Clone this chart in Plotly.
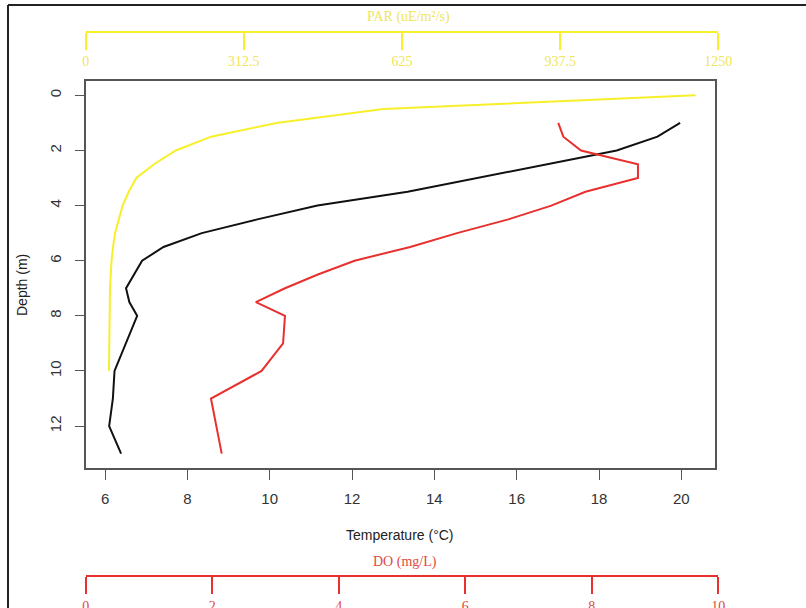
import plotly.graph_objects as go

# ---- data ----
depth_temp = [1, 1.5, 2, 3.5, 4, 4.5, 5, 5.5, 6, 7, 7.5, 8, 10, 11, 12, 13]
temperature = [19.97, 19.42, 18.43, 13.35, 11.16, 9.7, 8.35, 7.42, 6.9, 6.51, 6.59, 6.78, 6.23, 6.19, 6.1, 6.39]

depth_do = [1, 1.5, 2, 2.5, 3, 3.5, 4, 4.5, 5, 5.5, 6, 6.5, 7, 7.5, 8, 9, 10, 11, 13]
do_vals = [7.47, 7.55, 7.83, 8.73, 8.73, 7.9, 7.36, 6.68, 5.87, 5.13, 4.25, 3.67, 3.15, 2.69, 3.15, 3.12, 2.78, 1.98, 2.15]

depth_par = [0, 0.5, 1, 1.5, 2, 2.5, 3, 3.5, 4, 4.5, 5, 5.5, 6, 7, 8, 9, 10]
par_vals = [1205, 588, 377, 248, 178, 135, 100, 85, 73, 65, 58, 54, 51, 48, 47, 46.5, 46]

temp_ticks = [6, 8, 10, 12, 14, 16, 18, 20]
depth_ticks = [0, 2, 4, 6, 8, 10, 12]
par_ticks = [0, 312.5, 625, 937.5, 1250]
par_labels = ["0", "312.5", "625", "937.5", "1250"]
do_ticks = [0, 2, 4, 6, 8, 10]

W, H = 806, 608
BLACK = "#111111"
RED = "#e8302e"
YEL = "#f7ef2a"
YEL_TXT = "#efe55a"
RED_TXT = "#e04a40"
FRAME = "#555555"

def px(x):
    return x / W

def py(y):
    return 1 - y / H

fig = go.Figure()
fig.add_trace(go.Scatter(x=par_vals, y=depth_par, mode="lines", xaxis="x2", yaxis="y",
                         line=dict(color=YEL, width=2), hoverinfo="skip"))
fig.add_trace(go.Scatter(x=temperature, y=depth_temp, mode="lines", xaxis="x", yaxis="y",
                         line=dict(color=BLACK, width=2), hoverinfo="skip"))
fig.add_trace(go.Scatter(x=do_vals, y=depth_do, mode="lines", xaxis="x3", yaxis="y",
                         line=dict(color=RED, width=2), hoverinfo="skip"))

sans = dict(family="Liberation Sans, Arial, sans-serif", size=15, color="#333333")
serif_y = dict(family="Liberation Serif, Times New Roman, serif", size=14, color=YEL_TXT)
serif_r = dict(family="Liberation Serif, Times New Roman, serif", size=14, color=RED_TXT)

main_dom = [px(85.7), px(714.7)]
extra_dom = [px(85.7), px(718.3)]

fig.update_layout(
    template="none",
    width=W, height=H,
    margin=dict(l=0, r=0, t=0, b=0),
    paper_bgcolor="white", plot_bgcolor="rgba(0,0,0,0)",
    showlegend=False,
    xaxis=dict(domain=main_dom, range=[5.53, 20.81], anchor="y",
               tickvals=temp_ticks, ticks="outside", ticklen=10, tickwidth=1.2,
               tickcolor=FRAME, showline=True, linecolor=FRAME, linewidth=1.5,
               mirror=True, showgrid=False, zeroline=False, tickfont=sans,
               ticklabelstandoff=6, automargin=False),
    yaxis=dict(domain=[py(468), py(81)], range=[13.52, -0.52], anchor="x",
               tickvals=depth_ticks, ticks="outside", ticklen=9, tickwidth=1.2,
               tickcolor=FRAME, showline=True, linecolor=FRAME, linewidth=1.5,
               mirror=True, showgrid=False, zeroline=False, tickfont=sans,
               tickangle=-90, ticklabelstandoff=8, automargin=False),
    xaxis2=dict(domain=extra_dom, range=[0, 1250], anchor="free", position=py(31.5),
                side="bottom", tickvals=par_ticks, ticktext=par_labels,
                ticks="outside", ticklen=17, tickwidth=2, tickcolor=YEL,
                showline=True, linecolor=YEL, linewidth=2, showgrid=False,
                zeroline=False, tickfont=serif_y, automargin=False),
    xaxis3=dict(domain=extra_dom, range=[0, 10], anchor="free", position=py(576),
                side="bottom", tickvals=do_ticks,
                ticks="outside", ticklen=17, tickwidth=2, tickcolor=RED,
                showline=True, linecolor=RED, linewidth=2, showgrid=False,
                zeroline=False, tickfont=serif_r, automargin=False),
    annotations=[
        dict(text="PAR (uE/m²/s)", x=px(408), y=py(17), xref="paper", yref="paper",
             showarrow=False, font=serif_y, xanchor="center", yanchor="middle"),
        dict(text="DO (mg/L)", x=px(405), y=py(562), xref="paper", yref="paper",
             showarrow=False, font=serif_r, xanchor="center", yanchor="middle"),
        dict(text="Temperature (°C)", x=px(400), y=py(535), xref="paper", yref="paper",
             showarrow=False, font=dict(family="Liberation Sans, Arial, sans-serif", size=14, color="#222222"),
             xanchor="center", yanchor="middle"),
        dict(text="Depth (m)", x=px(22), y=py(285), xref="paper", yref="paper",
             showarrow=False, textangle=-90,
             font=dict(family="Liberation Sans, Arial, sans-serif", size=14, color="#222222"),
             xanchor="center", yanchor="middle"),
    ],
    shapes=[
        dict(type="line", xref="paper", yref="paper", x0=px(8), x1=1, y0=py(5), y1=py(5),
             line=dict(color="#222222", width=2), layer="above"),
        dict(type="line", xref="paper", yref="paper", x0=px(8), x1=px(8), y0=py(5), y1=0,
             line=dict(color="#222222", width=2), layer="above"),
    ],
)

fig.write_html(
    "out.html",
    config={"displayModeBar": False},
    post_script="document.body.style.margin='0';document.body.style.padding='0';"
                "document.documentElement.style.overflow='hidden';",
)
